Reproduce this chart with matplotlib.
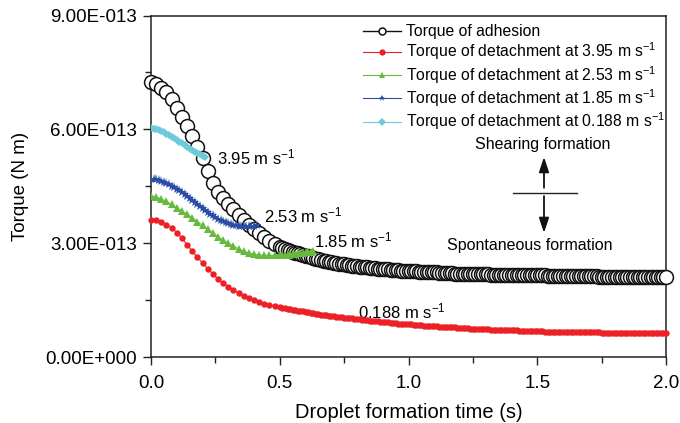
import numpy as np
import matplotlib
matplotlib.use("Agg")
import matplotlib.pyplot as plt
from matplotlib.ticker import MultipleLocator

plt.rcParams['font.family'] = ['Liberation Sans', 'DejaVu Sans']
plt.rcParams['mathtext.fontset'] = 'custom'
plt.rcParams['mathtext.rm'] = 'Liberation Sans'
plt.rcParams['mathtext.it'] = 'Liberation Sans:italic'

# time grid (s): 0.02 s steps up to 0.5 s, then 0.01 s steps
t_coarse = np.round(np.arange(0.0, 0.51, 0.02), 2)
t_fine = np.round(np.arange(0.51, 2.001, 0.01), 2)
time = np.concatenate([t_coarse, t_fine])
time_short = np.round(np.arange(0.0, 0.415, 0.01), 2)

# torque values in units of 1e-13 N m
adhesion = [
    7.25, 7.19, 7.10, 6.98, 6.80, 6.57, 6.33, 6.08, 5.82, 5.54, 5.24, 4.89, 4.58,
    4.36, 4.19, 4.04, 3.89, 3.75, 3.62, 3.49, 3.37, 3.26, 3.16, 3.07, 2.99, 2.91,
    2.88, 2.85, 2.82, 2.80, 2.77, 2.75, 2.73, 2.71, 2.69, 2.67,
    2.65, 2.63, 2.61, 2.59, 2.57, 2.56, 2.54, 2.53, 2.51, 2.50,
    2.49, 2.47, 2.46, 2.45, 2.44, 2.43, 2.42, 2.41, 2.40, 2.39,
    2.38, 2.37, 2.37, 2.36, 2.35, 2.35, 2.34, 2.33, 2.33, 2.32,
    2.31, 2.31, 2.30, 2.30, 2.29, 2.29, 2.28, 2.28, 2.27, 2.27,
    2.27, 2.26, 2.26, 2.25, 2.25, 2.25, 2.24, 2.24, 2.23, 2.23,
    2.23, 2.22, 2.22, 2.22, 2.21, 2.21, 2.21, 2.20, 2.20, 2.20,
    2.20, 2.20, 2.19, 2.19, 2.19, 2.19, 2.18, 2.18, 2.18, 2.18,
    2.18, 2.17, 2.17, 2.17, 2.17, 2.17, 2.16, 2.16, 2.16, 2.16,
    2.16, 2.16, 2.16, 2.16, 2.15, 2.15, 2.15, 2.15, 2.15, 2.15,
    2.15, 2.15, 2.15, 2.14, 2.14, 2.14, 2.14, 2.14, 2.14, 2.14,
    2.14, 2.14, 2.14, 2.13, 2.13, 2.13, 2.13, 2.13, 2.13, 2.13,
    2.13, 2.13, 2.13, 2.12, 2.12, 2.12, 2.12, 2.12, 2.12, 2.12,
    2.12, 2.12, 2.12, 2.11, 2.11, 2.11, 2.11, 2.11, 2.11, 2.11,
    2.11, 2.11, 2.11, 2.10, 2.10, 2.10, 2.10, 2.10, 2.10, 2.10,
]

detach_395 = [
    3.62, 3.60, 3.56, 3.49, 3.40, 3.28, 3.13, 2.96, 2.79, 2.63, 2.48, 2.33, 2.19,
    2.06, 1.95, 1.85, 1.76, 1.68, 1.61, 1.55, 1.50, 1.45, 1.41, 1.37, 1.34, 1.31,
    1.30, 1.28, 1.27, 1.26, 1.25, 1.23, 1.22, 1.21, 1.20, 1.19,
    1.18, 1.17, 1.16, 1.14, 1.13, 1.12, 1.11, 1.10, 1.09, 1.08,
    1.07, 1.06, 1.05, 1.05, 1.04, 1.03, 1.02, 1.02, 1.01, 1.00,
    0.99, 0.98, 0.98, 0.97, 0.96, 0.95, 0.95, 0.94, 0.93, 0.92,
    0.91, 0.91, 0.90, 0.90, 0.89, 0.88, 0.88, 0.87, 0.87, 0.86,
    0.86, 0.85, 0.85, 0.84, 0.84, 0.83, 0.83, 0.82, 0.82, 0.81,
    0.81, 0.80, 0.80, 0.80, 0.79, 0.79, 0.78, 0.78, 0.77, 0.77,
    0.77, 0.76, 0.76, 0.75, 0.75, 0.75, 0.74, 0.74, 0.73, 0.73,
    0.73, 0.72, 0.72, 0.72, 0.71, 0.71, 0.71, 0.70, 0.70, 0.70,
    0.70, 0.70, 0.69, 0.69, 0.69, 0.69, 0.68, 0.68, 0.68, 0.68,
    0.68, 0.68, 0.67, 0.67, 0.67, 0.67, 0.67, 0.66, 0.66, 0.66,
    0.66, 0.66, 0.66, 0.66, 0.66, 0.65, 0.65, 0.65, 0.65, 0.65,
    0.65, 0.65, 0.65, 0.65, 0.64, 0.64, 0.64, 0.64, 0.64, 0.64,
    0.64, 0.64, 0.64, 0.64, 0.63, 0.63, 0.63, 0.63, 0.63, 0.63,
    0.63, 0.63, 0.63, 0.63, 0.62, 0.62, 0.62, 0.62, 0.62, 0.62,
]

detach_253 = [
    4.24, 4.22, 4.17, 4.10, 4.02, 3.94, 3.85, 3.76, 3.67, 3.57, 3.47, 3.37, 3.27,
    3.17, 3.08, 3.00, 2.92, 2.85, 2.79, 2.74, 2.71, 2.69, 2.68, 2.68, 2.68, 2.69,
    2.69, 2.70, 2.70, 2.71, 2.72, 2.72, 2.73, 2.74, 2.75, 2.76, 2.77, 2.78, 2.79,
]

detach_185 = [
    4.70, 4.70, 4.69, 4.67, 4.65, 4.62, 4.59, 4.56, 4.52, 4.48, 4.44, 4.40, 4.35, 4.30,
    4.25, 4.20, 4.15, 4.09, 4.04, 3.98, 3.93, 3.88, 3.83, 3.78, 3.73, 3.69, 3.65, 3.61,
    3.58, 3.55, 3.52, 3.50, 3.48, 3.47, 3.46, 3.45, 3.44, 3.44, 3.44, 3.45, 3.46, 3.47,
]

detach_0188 = [
    6.03, 6.02, 6.01, 5.99, 5.96, 5.92, 5.88, 5.84, 5.80, 5.76, 5.71,
    5.67, 5.63, 5.58, 5.54, 5.49, 5.45, 5.41, 5.37, 5.34, 5.31, 5.28,
]

scale = 1e-13
ytick_vals = [0.0, 3.0, 6.0, 9.0]
ytick_labels = ['0.00E+000', '3.00E-013', '6.00E-013', '9.00E-013']
unit = r' m s$^{-1}$'

fig = plt.figure(figsize=(6.8, 4.23), dpi=100)
ax = fig.add_axes([0.2221, 0.156, 0.7574, 0.8073])

ax.plot(time, np.array(adhesion) * scale, '-o', color='#111111', lw=1.0,
        ms=10, mfc='white', mec='#111111', mew=1.1, clip_on=False, zorder=3,
        label='Torque of adhesion')
ax.plot(time, np.array(detach_395) * scale, '-o', color='#ec2027', lw=0.8,
        ms=4.6, mec='#ec2027', mew=0, clip_on=False, zorder=4,
        label='Torque of detachment at 3.95' + unit)
ax.plot(time[:len(detach_253)], np.array(detach_253) * scale, '-^', color='#66bb3f',
        lw=0.8, ms=5.6, mew=0, zorder=4,
        label='Torque of detachment at 2.53' + unit)
ax.plot(time_short, np.array(detach_185) * scale, '-*', color='#2a4ea6', lw=0.8,
        ms=6.5, mew=0, zorder=4,
        label='Torque of detachment at 1.85' + unit)
ax.plot(time_short[:len(detach_0188)], np.array(detach_0188) * scale, '-D',
        color='#6dcadb', lw=0.8, ms=4.0, mew=0, zorder=4,
        label='Torque of detachment at 0.188' + unit)

ax.set_xlim(0, 2.0)
ax.set_ylim(0, 9e-13)
ax.set_xticks([0.0, 0.5, 1.0, 1.5, 2.0])
ax.set_xticklabels(['0.0', '0.5', '1.0', '1.5', '2.0'])
ax.xaxis.set_minor_locator(MultipleLocator(0.25))
ax.set_yticks([v * scale for v in ytick_vals])
ax.set_yticklabels(ytick_labels)
ax.yaxis.set_minor_locator(MultipleLocator(1.5e-13))
ax.tick_params(which='major', direction='out', length=6, width=1.0,
               labelsize=13.5, color='#222222', pad=4)
ax.tick_params(axis='x', which='major', pad=7)
ax.tick_params(which='minor', direction='out', length=4.5, width=1.0, color='#222222')
for sp in ax.spines.values():
    sp.set_linewidth(1.1)
    sp.set_color('#222222')

ax.set_xlabel('Droplet formation time (s)', fontsize=14.5, labelpad=8)
ax.set_ylabel('Torque (N m)', fontsize=13.5, labelpad=12)

leg = ax.legend(loc='upper left', bbox_to_anchor=(0.412, 0.975), frameon=False,
                fontsize=11.3, handlelength=2.4, handletextpad=0.3,
                labelspacing=0.1, borderpad=0, borderaxespad=0, numpoints=1)
for h in leg.legend_handles:
    h.set_markersize(4.5)
leg.legend_handles[0].set_markersize(5)

# curve labels
ax.text(0.256, 5.27 * scale, '3.95' + unit, fontsize=12, va='center')
ax.text(0.439, 3.72 * scale, '2.53' + unit, fontsize=12, va='center')
ax.text(0.633, 3.08 * scale, '1.85' + unit, fontsize=12, va='center')
ax.text(0.804, 1.21 * scale, '0.188' + unit, fontsize=12, va='center')

# formation regime marker
ax.text(1.522, 5.59 * scale, 'Shearing formation', fontsize=11.5, ha='center', va='center')
ax.text(1.47, 2.95 * scale, 'Spontaneous formation', fontsize=11.5, ha='center', va='center')
ax.plot([1.406, 1.654], [4.32 * scale, 4.32 * scale], color='#222222', lw=1.0)
ax.annotate('', xy=(1.526, 5.27 * scale), xytext=(1.526, 4.46 * scale),
            arrowprops=dict(arrowstyle='-|>,head_width=0.3,head_length=0.9',
                            color='#111111', lw=1.3,
                            mutation_scale=10, shrinkA=0, shrinkB=0))
ax.annotate('', xy=(1.526, 3.27 * scale), xytext=(1.526, 4.24 * scale),
            arrowprops=dict(arrowstyle='-|>,head_width=0.3,head_length=0.9',
                            color='#111111', lw=1.3,
                            mutation_scale=10, shrinkA=0, shrinkB=0))

fig.savefig('out.png', dpi=100)
